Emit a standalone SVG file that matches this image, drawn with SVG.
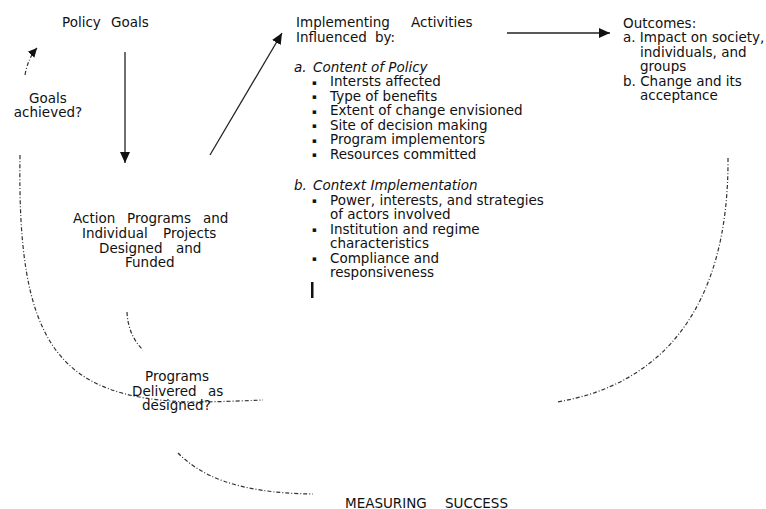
<svg xmlns="http://www.w3.org/2000/svg" width="766" height="509" viewBox="0 0 766 509">
<style>
text{font-family:"DejaVu Sans",Verdana,sans-serif;font-size:13.5px;fill:#111}
.it{font-style:italic}
.bul{font-size:7px}
.solid{fill:none;stroke:#222;stroke-width:1.3}
.dd{fill:none;stroke:#333;stroke-width:1.2;stroke-dasharray:4 2 1 2}
</style>
<defs>
<marker id="ah" markerUnits="userSpaceOnUse" markerWidth="12" markerHeight="12" viewBox="0 0 12 12" refX="11" refY="6" orient="auto">
<path d="M0,1 L11,6 L0,11 Z" fill="#111"/>
</marker>
<marker id="ahs" markerUnits="userSpaceOnUse" markerWidth="10" markerHeight="10" viewBox="0 0 10 10" refX="9" refY="5" orient="auto">
<path d="M0,0.5 L9,5 L0,9.5 Z" fill="#111"/>
</marker>
</defs>
<rect width="766" height="509" fill="#fff"/>

<g id="connectors">
<line class="solid" x1="125" y1="52" x2="125" y2="163" marker-end="url(#ah)"/>
<line class="solid" x1="210" y1="155" x2="282" y2="33" marker-end="url(#ah)"/>
<line class="solid" x1="507" y1="33" x2="610" y2="33" marker-end="url(#ah)"/>
<path class="dd" d="M25,75 Q28,58 37,48" marker-end="url(#ahs)"/>
<path class="dd" d="M20,155 C17,340 55,398 190,402 C215,402 240,401 263,400"/>
<path class="dd" d="M127,312 Q128,335 143,350"/>
<path class="dd" d="M178,453 C200,475 235,493 313,494"/>
<path class="dd" d="M728,158 C729,310 660,385 557,402"/>
</g>

<g id="policy-goals">
<text x="62" y="27">Policy</text>
<text x="111" y="27">Goals</text>
</g>

<g id="goals-achieved">
<text x="48" y="102.5" text-anchor="middle">Goals</text>
<text x="48" y="117" text-anchor="middle">achieved?</text>
</g>

<g id="action-programs">
<text x="73" y="223">Action</text><text x="127" y="223">Programs</text><text x="203" y="223">and</text>
<text x="82" y="238">Individual</text><text x="163" y="238">Projects</text>
<text x="99" y="253">Designed</text><text x="176" y="253">and</text>
<text x="125" y="267">Funded</text>
</g>

<g id="programs-delivered">
<text x="145" y="380.5">Programs</text>
<text x="132" y="395.5">Delivered</text><text x="208" y="395.5">as</text>
<text x="142" y="410">designed?</text>
</g>

<g id="implementing">
<text x="296" y="27">Implementing</text><text x="411" y="27">Activities</text>
<text x="296" y="42">Influenced</text><text x="375" y="42">by:</text>
<text class="it" x="294" y="71.5">a.</text><text class="it" x="313" y="71.5">Content of Policy</text>
<text class="bul" x="312" y="84.5">▪</text><text x="330" y="86">Intersts affected</text>
<text class="bul" x="312" y="99">▪</text><text x="330" y="100.5">Type of benefits</text>
<text class="bul" x="312" y="113.5">▪</text><text x="330" y="115">Extent of change envisioned</text>
<text class="bul" x="312" y="128">▪</text><text x="330" y="129.5">Site of decision making</text>
<text class="bul" x="312" y="142.5">▪</text><text x="330" y="144">Program implementors</text>
<text class="bul" x="312" y="157">▪</text><text x="330" y="158.5">Resources committed</text>
<text class="it" x="294" y="189.5">b.</text><text class="it" x="313" y="189.5">Context Implementation</text>
<text class="bul" x="312" y="203">▪</text><text x="330" y="204.5">Power, interests, and strategies</text>
<text x="330" y="219">of actors involved</text>
<text class="bul" x="312" y="232">▪</text><text x="330" y="233.5">Institution and regime</text>
<text x="330" y="248">characteristics</text>
<text class="bul" x="312" y="261">▪</text><text x="330" y="262.5">Compliance and</text>
<text x="330" y="277">responsiveness</text>
<rect x="311" y="282" width="2.5" height="16" fill="#111"/>
</g>

<g id="outcomes">
<text x="623" y="27.5">Outcomes:</text>
<text x="623" y="42">a. Impact on society,</text>
<text x="640" y="56.5">individuals, and</text>
<text x="640" y="71">groups</text>
<text x="623" y="85.5">b. Change and its</text>
<text x="640" y="100">acceptance</text>
</g>

<g id="measuring-success">
<text x="345" y="507.5">MEASURING</text>
<text x="445" y="507.5">SUCCESS</text>
</g>
</svg>
